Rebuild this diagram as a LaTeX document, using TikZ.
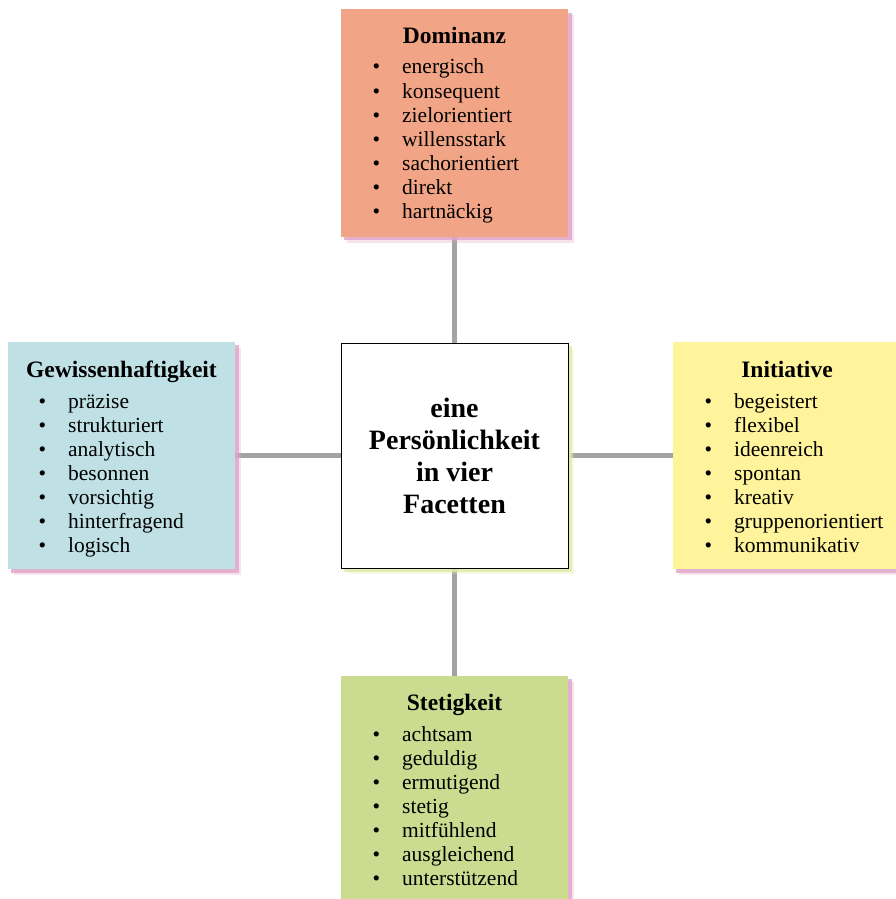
\documentclass[tikz,border=0pt]{standalone}
\usepackage{fontspec}
\setmainfont{Liberation Serif}
\usetikzlibrary{backgrounds}
\definecolor{domcol}{HTML}{F2A486}
\definecolor{gewcol}{HTML}{BFE1E6}
\definecolor{inicol}{HTML}{FFF39B}
\definecolor{stecol}{HTML}{CBDB8F}
\definecolor{shpink}{HTML}{DFA3C8}
\definecolor{shgreen}{HTML}{DDEAA8}
\definecolor{conngray}{HTML}{A3A3A3}
\tikzset{
  facet/.style={minimum width=227pt, minimum height=227pt, inner sep=0pt, draw=none},
  centerbox/.style={minimum width=227pt, minimum height=225pt, inner sep=0pt, draw=black, line width=0.9pt, fill=white,
    align=center, font=\fontsize{28}{32}\selectfont\bfseries},
  conn/.style={draw=conngray, line width=5pt},
  ttl/.style={font=\fontsize{23.5}{26}\selectfont\bfseries, anchor=base, inner sep=0pt},
  itm/.style={font=\fontsize{21.5}{24}\selectfont, anchor=base west, inner sep=0pt},
}
\newcommand\facetlist[4]{%
  \foreach \w [count=\i from 0] in {#4}
    \node[itm] (#1-\i) at ({#2},{#3+24*\i}) {\makebox[29.5pt][l]{\textbullet}\w};}
\newcommand\boxshadow[2]{%
  \fill[#2, opacity=0.3] ([shift={(6,6)}]#1.north west) rectangle ([shift={(6,6)}]#1.south east);
  \fill[#2, opacity=0.8] ([shift={(3.5,3.5)}]#1.north west) rectangle ([shift={(3.5,3.5)}]#1.south east);}
\begin{document}
\begin{tikzpicture}[x=1pt, y=-1pt]
\useasboundingbox (0,0) rectangle (896,899);
% boxes
\node[facet, fill=domcol] (dom) at (454.5,123) {};
\node[facet, fill=gewcol] (gew) at (121.5,455.5) {};
\node[facet, fill=inicol] (ini) at (786.5,455.5) {};
\node[facet, fill=stecol] (ste) at (454.5,789.5) {};
\node[centerbox] (cen) at (454.5,455.5) {eine\\Persönlichkeit\\in vier\\Facetten};
% titles
\node[ttl] (domt) at (454.5,44) {Dominanz};
\node[ttl] (gewt) at (121.5,377) {Gewissenhaftigkeit};
\node[ttl] (init) at (787,377) {Initiative};
\node[ttl] (stet) at (454.5,710) {Stetigkeit};
% lists
\facetlist{domi}{372.5}{74}{energisch,konsequent,zielorientiert,willensstark,sachorientiert,direkt,hartnäckig}
\facetlist{gewi}{38.5}{408}{präzise,strukturiert,analytisch,besonnen,vorsichtig,hinterfragend,logisch}
\facetlist{inii}{704.5}{408}{begeistert,flexibel,ideenreich,spontan,kreativ,gruppenorientiert,kommunikativ}
\facetlist{stei}{372.5}{741}{achtsam,geduldig,ermutigend,stetig,mitfühlend,ausgleichend,unterstützend}
\begin{pgfonlayer}{background}
  \draw[conn] (dom.south) -- (cen.north);
  \draw[conn] (cen.south) -- (ste.north);
  \draw[conn] (gew.east) -- (cen.west);
  \draw[conn] (cen.east) -- (ini.west);
  \boxshadow{dom}{shpink}
  \boxshadow{gew}{shpink}
  \boxshadow{ini}{shpink}
  \boxshadow{ste}{shpink}
  \boxshadow{cen}{shgreen}
\end{pgfonlayer}
\end{tikzpicture}
\end{document}
